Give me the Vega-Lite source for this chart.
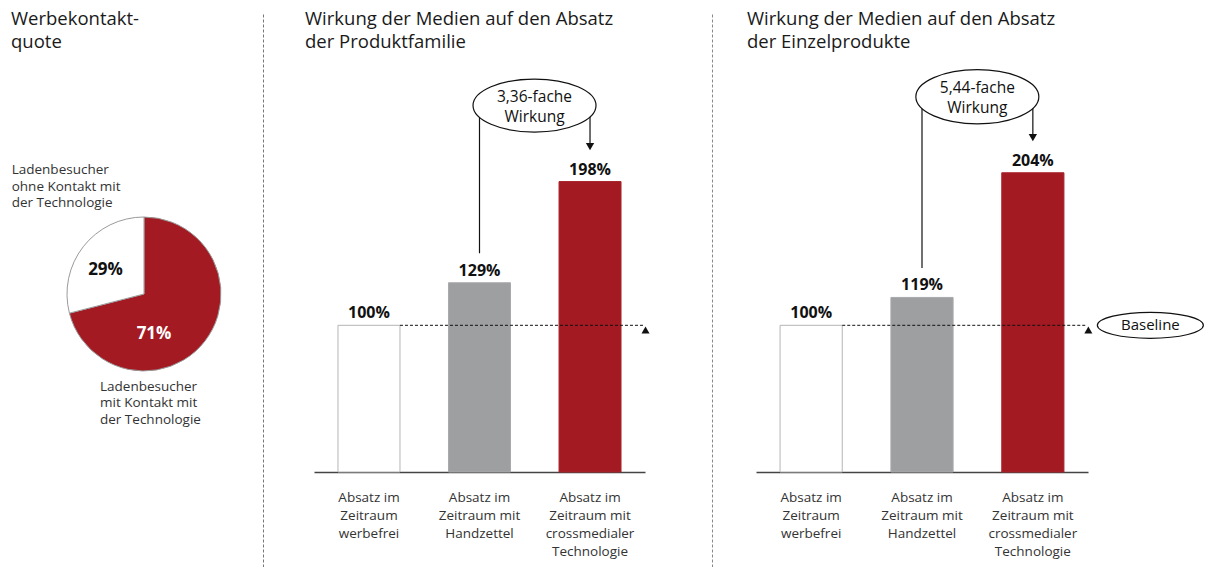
{
  "$schema": "https://vega.github.io/schema/vega-lite/v6.json",
  "padding": 0,
  "background": "white",
  "bounds": "flush",
  "spacing": 0,
  "resolve": {"scale": {"fill": "independent", "stroke": "independent"}},
  "config": {
    "view": {"stroke": null},
    "font": "Open Sans",
    "concat": {"spacing": 0}
  },
  "datasets": {
    "kontakt": [
      {"seg": "mit Kontakt", "share": 0.71, "lines": ["Ladenbesucher", "mit Kontakt mit", "der Technologie"]},
      {"seg": "ohne Kontakt", "share": 0.29, "lines": ["Ladenbesucher", "ohne Kontakt mit", "der Technologie"]}
    ],
    "familie": [
      {"medium": "werbefrei", "cat": "Absatz im\nZeitraum\nwerbefrei", "value": 1.0},
      {"medium": "Handzettel", "cat": "Absatz im\nZeitraum mit\nHandzettel", "value": 1.29},
      {"medium": "crossmedial", "cat": "Absatz im\nZeitraum mit\ncrossmedialer\nTechnologie", "value": 1.98}
    ],
    "einzel": [
      {"medium": "werbefrei", "cat": "Absatz im\nZeitraum\nwerbefrei", "value": 1.0},
      {"medium": "Handzettel", "cat": "Absatz im\nZeitraum mit\nHandzettel", "value": 1.19},
      {"medium": "crossmedial", "cat": "Absatz im\nZeitraum mit\ncrossmedialer\nTechnologie", "value": 2.04}
    ]
  },
  "hconcat": [
    {
      "width": 288,
      "height": 567,
      "title": {"text": ["Werbekontakt-", "quote"], "anchor": "start", "frame": "group", "offset": -51, "dx": 11, "fontSize": 18.5, "fontWeight": 500, "color": "#1a1a1a", "font": "Open Sans", "lineHeight": 23},
      "data": {"name": "kontakt"},
      "layer": [
        {
          "mark": {"type": "arc", "radius": 77, "stroke": "#9a9a9a", "strokeWidth": 1, "yOffset": 10.5},
          "encoding": {
            "theta": {"field": "share", "type": "quantitative", "stack": true},
            "fill": {"field": "seg", "type": "nominal", "scale": {"domain": ["mit Kontakt", "ohne Kontakt"], "range": ["#A31A22", "#ffffff"]}, "legend": null}
          }
        },
        {
          "transform": [{"filter": "datum.seg == 'ohne Kontakt'"}],
          "mark": {"type": "text", "dx": -38.5, "dy": -14, "fontSize": 17, "fontWeight": "bold", "color": "#111111", "baseline": "middle"},
          "encoding": {"text": {"field": "share", "type": "quantitative", "format": ".0%"}}
        },
        {
          "transform": [{"filter": "datum.seg == 'mit Kontakt'"}],
          "mark": {"type": "text", "dx": 10, "dy": 50.5, "fontSize": 17, "fontWeight": "bold", "color": "#ffffff", "baseline": "middle"},
          "encoding": {"text": {"field": "share", "type": "quantitative", "format": ".0%"}}
        },
        {
          "transform": [{"filter": "datum.seg == 'ohne Kontakt'"}],
          "mark": {"type": "text", "dx": -132.3, "dy": -120.5, "fontSize": 13.5, "color": "#333333", "align": "left", "baseline": "top", "lineHeight": 16.7},
          "encoding": {"text": {"field": "lines", "type": "nominal"}}
        },
        {
          "transform": [{"filter": "datum.seg == 'mit Kontakt'"}],
          "mark": {"type": "text", "dx": -44, "dy": 96.2, "fontSize": 13.5, "color": "#333333", "align": "left", "baseline": "top", "lineHeight": 16.5},
          "encoding": {"text": {"field": "lines", "type": "nominal"}}
        }
      ]
    },
    {
      "width": 449,
      "height": 567,
      "title": {"text": ["Wirkung der Medien auf den Absatz", "der Produktfamilie"], "anchor": "start", "frame": "group", "offset": -51, "dx": 17, "fontSize": 18.5, "fontWeight": 500, "color": "#1a1a1a", "font": "Open Sans", "lineHeight": 23},
      "data": {"name": "familie"},
      "encoding": {
        "x": {"field": "cat", "type": "nominal", "sort": null, "scale": {"range": [26, 357], "paddingInner": 0.439, "paddingOuter": 0.217},
          "axis": {"orient": "bottom", "offset": -95, "title": null, "domainColor": "#444444", "domainWidth": 1.5, "ticks": false, "labelAngle": 0, "labelExpr": "split(datum.label, '\\n')", "labelFontSize": 13.5, "labelColor": "#333333", "labelLineHeight": 18, "labelBaseline": "top", "labelPadding": 18, "labelOverlap": false, "labelFont": "Open Sans", "labelLimit": 300}},
        "y": {"field": "value", "type": "quantitative", "scale": {"domain": [-0.6476, 3.1357], "range": [567, 12], "nice": false, "zero": false},
          "axis": {"orient": "left", "offset": 25, "title": null, "labels": false, "ticks": false, "grid": false, "domainDash": [3, 2], "domainColor": "#777777", "domainWidth": 1}}
      },
      "layer": [
        {
          "mark": {"type": "bar", "strokeWidth": 1},
          "encoding": {
            "y": {"field": "value", "type": "quantitative", "stack": null},
            "fill": {"field": "medium", "type": "nominal", "scale": {"domain": ["werbefrei", "Handzettel", "crossmedial"], "range": ["#ffffff", "#9E9FA1", "#A31A22"]}, "legend": null},
            "stroke": {"field": "medium", "type": "nominal", "scale": {"domain": ["werbefrei", "Handzettel", "crossmedial"], "range": ["#b5b5b5", "#a8a9ab", "#a8262d"]}, "legend": null}
          }
        },
        {
          "mark": {"type": "text", "dy": -7, "fontSize": 16, "fontWeight": "bold", "color": "#111111", "baseline": "alphabetic"},
          "encoding": {"text": {"field": "value", "type": "quantitative", "format": ".0%"}}
        },
        {
          "transform": [{"filter": "datum.medium == 'werbefrei'"}],
          "mark": {"type": "rule", "strokeDash": [3, 2], "color": "#111111", "strokeWidth": 1, "x2Offset": 54},
          "encoding": {
            "x": {"field": "cat", "type": "nominal", "sort": null, "bandPosition": 1},
            "x2": {"datum": "Absatz im\nZeitraum mit\ncrossmedialer\nTechnologie"},
            "y": {"field": "value", "type": "quantitative"}
          }
        },
        {
          "transform": [{"filter": "datum.medium == 'crossmedial'"}],
          "mark": {"type": "point", "shape": "triangle-up", "filled": true, "opacity": 1, "color": "#111111", "size": 64, "xOffset": 55.5, "yOffset": 4.7},
          "encoding": {"y": {"datum": 1, "type": "quantitative"}}
        },
        {
          "transform": [{"filter": "datum.medium == 'Handzettel'"}],
          "mark": {"type": "rule", "color": "#111111", "strokeWidth": 1.2, "y2Offset": -29.5},
          "encoding": {"y": {"datum": 2.5, "type": "quantitative"}, "y2": {"field": "value"}}
        },
        {
          "transform": [{"filter": "datum.medium == 'crossmedial'"}],
          "mark": {"type": "rule", "color": "#111111", "strokeWidth": 1.2, "y2Offset": -38},
          "encoding": {"y": {"datum": 2.5, "type": "quantitative"}, "y2": {"field": "value"}}
        },
        {
          "transform": [{"filter": "datum.medium == 'crossmedial'"}],
          "mark": {"type": "point", "shape": "triangle-down", "filled": true, "opacity": 1, "color": "#111111", "size": 70, "yOffset": -35}
        },
        {
          "transform": [{"filter": "datum.medium == 'crossmedial'"}],
          "mark": {"type": "point", "shape": "M-1,0C-1,-0.238,-0.552,-0.431,0,-0.431C0.552,-0.431,1,-0.238,1,0C1,0.238,0.552,0.431,0,0.431C-0.552,0.431,-1,0.238,-1,0Z", "filled": true, "opacity": 1, "fill": "#ffffff", "stroke": "#111111", "strokeWidth": 1.2, "size": 15129, "xOffset": -55.5, "yOffset": -76}
        },
        {
          "transform": [{"filter": "datum.medium == 'crossmedial'"}],
          "mark": {"type": "text", "fontSize": 15.5, "color": "#111111", "baseline": "middle", "lineHeight": 20, "xOffset": -55.5, "yOffset": -85},
          "encoding": {"text": {"value": ["3,36-fache", "Wirkung"]}}
        }
      ]
    },
    {
      "width": 474,
      "height": 567,
      "title": {"text": ["Wirkung der Medien auf den Absatz", "der Einzelprodukte"], "anchor": "start", "frame": "group", "offset": -51, "dx": 10, "fontSize": 18.5, "fontWeight": 500, "color": "#1a1a1a", "font": "Open Sans", "lineHeight": 23},
      "data": {"name": "einzel"},
      "encoding": {
        "x": {"field": "cat", "type": "nominal", "sort": null, "scale": {"range": [19, 351], "paddingInner": 0.439, "paddingOuter": 0.217},
          "axis": {"orient": "bottom", "offset": -95, "title": null, "domainColor": "#444444", "domainWidth": 1.5, "ticks": false, "labelAngle": 0, "labelExpr": "split(datum.label, '\\n')", "labelFontSize": 13.5, "labelColor": "#333333", "labelLineHeight": 18, "labelBaseline": "top", "labelPadding": 18, "labelOverlap": false, "labelFont": "Open Sans", "labelLimit": 300}},
        "y": {"field": "value", "type": "quantitative", "scale": {"domain": [-0.6476, 3.1357], "range": [567, 12], "nice": false, "zero": false},
          "axis": {"orient": "left", "offset": 25, "title": null, "labels": false, "ticks": false, "grid": false, "domainDash": [3, 2], "domainColor": "#888888", "domainWidth": 1}}
      },
      "layer": [
        {
          "mark": {"type": "bar", "strokeWidth": 1},
          "encoding": {
            "y": {"field": "value", "type": "quantitative", "stack": null},
            "fill": {"field": "medium", "type": "nominal", "scale": {"domain": ["werbefrei", "Handzettel", "crossmedial"], "range": ["#ffffff", "#9E9FA1", "#A31A22"]}, "legend": null},
            "stroke": {"field": "medium", "type": "nominal", "scale": {"domain": ["werbefrei", "Handzettel", "crossmedial"], "range": ["#b5b5b5", "#a8a9ab", "#a8262d"]}, "legend": null}
          }
        },
        {
          "mark": {"type": "text", "dy": -7, "fontSize": 16, "fontWeight": "bold", "color": "#111111", "baseline": "alphabetic"},
          "encoding": {"text": {"field": "value", "type": "quantitative", "format": ".0%"}}
        },
        {
          "transform": [{"filter": "datum.medium == 'werbefrei'"}],
          "mark": {"type": "rule", "strokeDash": [3, 2], "color": "#111111", "strokeWidth": 1, "x2Offset": 54},
          "encoding": {
            "x": {"field": "cat", "type": "nominal", "sort": null, "bandPosition": 1},
            "x2": {"datum": "Absatz im\nZeitraum mit\ncrossmedialer\nTechnologie"},
            "y": {"field": "value", "type": "quantitative"}
          }
        },
        {
          "transform": [{"filter": "datum.medium == 'crossmedial'"}],
          "mark": {"type": "point", "shape": "triangle-up", "filled": true, "opacity": 1, "color": "#111111", "size": 64, "xOffset": 55.5, "yOffset": 4.7},
          "encoding": {"y": {"datum": 1, "type": "quantitative"}}
        },
        {
          "transform": [{"filter": "datum.medium == 'crossmedial'"}],
          "mark": {"type": "point", "shape": "M-1,0C-1,-0.135,-0.552,-0.245,0,-0.245C0.552,-0.245,1,-0.135,1,0C1,0.135,0.552,0.245,0,0.245C-0.552,0.245,-1,0.135,-1,0Z", "filled": true, "opacity": 1, "fill": "#ffffff", "stroke": "#111111", "strokeWidth": 1.2, "size": 11236, "xOffset": 117.5},
          "encoding": {"y": {"datum": 1, "type": "quantitative"}}
        },
        {
          "transform": [{"filter": "datum.medium == 'crossmedial'"}],
          "mark": {"type": "text", "fontSize": 15, "color": "#111111", "baseline": "middle", "xOffset": 117.5},
          "encoding": {"y": {"datum": 1, "type": "quantitative"}, "text": {"value": "Baseline"}}
        },
        {
          "transform": [{"filter": "datum.medium == 'Handzettel'"}],
          "mark": {"type": "rule", "color": "#111111", "strokeWidth": 1.2, "y2Offset": -29.5},
          "encoding": {"y": {"datum": 2.5, "type": "quantitative"}, "y2": {"field": "value"}}
        },
        {
          "transform": [{"filter": "datum.medium == 'crossmedial'"}],
          "mark": {"type": "rule", "color": "#111111", "strokeWidth": 1.2, "y2Offset": -38},
          "encoding": {"y": {"datum": 2.5, "type": "quantitative"}, "y2": {"field": "value"}}
        },
        {
          "transform": [{"filter": "datum.medium == 'crossmedial'"}],
          "mark": {"type": "point", "shape": "triangle-down", "filled": true, "opacity": 1, "color": "#111111", "size": 70, "yOffset": -35}
        },
        {
          "transform": [{"filter": "datum.medium == 'crossmedial'"}],
          "mark": {"type": "point", "shape": "M-1,0C-1,-0.243,-0.552,-0.44,0,-0.44C0.552,-0.44,1,-0.243,1,0C1,0.243,0.552,0.44,0,0.44C-0.552,0.44,-1,0.243,-1,0Z", "filled": true, "opacity": 1, "fill": "#ffffff", "stroke": "#111111", "strokeWidth": 1.2, "size": 15129, "xOffset": -55.5, "yOffset": -76}
        },
        {
          "transform": [{"filter": "datum.medium == 'crossmedial'"}],
          "mark": {"type": "text", "fontSize": 15.5, "color": "#111111", "baseline": "middle", "lineHeight": 20, "xOffset": -55.5, "yOffset": -85},
          "encoding": {"text": {"value": ["5,44-fache", "Wirkung"]}}
        }
      ]
    }
  ]
}
